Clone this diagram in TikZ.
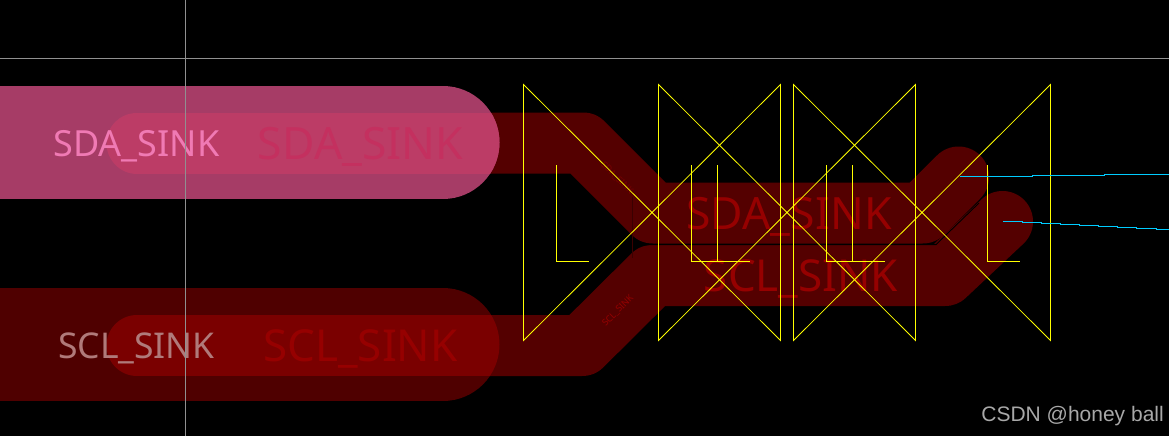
\documentclass[tikz,border=0pt]{standalone}
\usepackage{fontspec}
\setmainfont{Noto Sans}
\newfontfamily\wmfont{Liberation Sans}
\definecolor{trk}{HTML}{540000}
\definecolor{sdapad}{HTML}{A63C66}
\definecolor{sdaover}{HTML}{BC3C66}
\definecolor{sclpad}{HTML}{4F0000}
\definecolor{sclover}{HTML}{7A0000}
\definecolor{sdapadtxt}{HTML}{F07AB4}
\definecolor{sdatrktxt}{HTML}{C4305F}
\definecolor{sclpadtxt}{HTML}{B07A7A}
\definecolor{trktxt}{HTML}{960000}
\definecolor{tinytxt}{HTML}{780000}
\definecolor{ylw}{HTML}{FFFF00}
\definecolor{cyn}{HTML}{00CCFF}
\definecolor{gridc}{HTML}{909090}
\definecolor{wmc}{HTML}{A8A8A8}
\definecolor{dimline}{HTML}{3A0000}
\tikzset{
  x=1pt,y=-1pt,
  track/.style={line width=61pt,line join=round,line cap=round},
  pad/.style={line width=113pt,line cap=round},
  bow/.style={draw=ylw,line width=0.8pt},
  lmark/.style={draw=ylw,line width=0.9pt},
  ratline/.style={draw=cyn,line width=0.9pt},
  cross/.style={draw=gridc,line width=0.7pt},
  lab/.style={inner sep=0pt,anchor=center},
}
\begin{document}
\begin{tikzpicture}
\useasboundingbox (0,0) rectangle (1169,436);
\fill[black] (0,0) rectangle (1169,436);
% tracks
\draw[track,trk] (137,143) -- (583,143) -- (653,213) -- (922.6,213) -- (958.6,177);
\draw[track,trk] (137,345.5) -- (582,345.5) -- (652.5,275.5) -- (945,275.5) -- (1002.5,221.5);
\draw[black,line width=0.9pt] (640,244.6) -- (936,244.6) -- (979,203);
\draw[dimline,line width=1.5pt] (632.7,197) -- (632.7,258);
% pads
\draw[pad,sdapad,line cap=butt] (-5,142.5) -- (443,142.5);
\fill[sdapad] (443,86) arc[start angle=90,end angle=-90,x radius=56.5,y radius=-56.5];
\draw[pad,sclpad,line cap=butt] (-5,344.5) -- (443,344.5);
\fill[sclpad] (443,288) arc[start angle=90,end angle=-90,x radius=56.5,y radius=-56.5];
% overlaps
\begin{scope}
\clip (-5,86) -- (443,86) arc[start angle=90,end angle=-90,x radius=56.5,y radius=-56.5] -- (-5,199) -- cycle;
\draw[track,sdaover] (137,143) -- (583,143);
\end{scope}
\begin{scope}
\clip (-5,288) -- (443,288) arc[start angle=90,end angle=-90,x radius=56.5,y radius=-56.5] -- (-5,401) -- cycle;
\draw[track,sclover] (137,345.5) -- (582,345.5);
\end{scope}
% texts
\node[lab,text=sdapadtxt,font=\fontsize{36}{36}\selectfont] (t1) at (136.5,146.5) {SDA\_SINK};
\node[lab,text=sdatrktxt,font=\fontsize{44.5}{45}\selectfont] (t2) at (360.5,146.5) {SDA\_SINK};
\node[lab,text=sclpadtxt,font=\fontsize{35.5}{36}\selectfont] (t3) at (136.5,348.5) {SCL\_SINK};
\node[lab,text=trktxt,font=\fontsize{44}{45}\selectfont] (t4) at (360.5,348.5) {SCL\_SINK};
\node[lab,text=trktxt,font=\fontsize{44.5}{45}\selectfont] (t5) at (789,216.5) {SDA\_SINK};
\node[lab,text=trktxt,font=\fontsize{44}{45}\selectfont] (t6) at (801,278.5) {SCL\_SINK};
\node[lab,text=trktxt,rotate=45,font=\fontsize{9}{9}\selectfont] (t7) at (618,310.7) {SCL\_SINK};
\node[lab,text=tinytxt,rotate=-45,font=\fontsize{9}{9}\selectfont] (t8) at (617,178) {SDA\_SINK};
% yellow bow ties
\foreach \xa in {523.5,658.5,793.5}{
  \pgfmathsetmacro{\xb}{\xa+257}
  \draw[bow] (\xa,84.5) -- (\xa,340.5) -- (\xb,84.5) -- (\xb,340.5) -- cycle;
}
% L marks
\draw[lmark] (556.5,165) -- (556.5,261) -- (588.5,261);
\draw[lmark] (691.5,165) -- (691.5,261) -- (723.5,261);
\draw[lmark] (717.5,165) -- (717.5,261) -- (749.5,261);
\draw[lmark] (826.5,165) -- (826.5,261) -- (858.5,261);
\draw[lmark] (852.5,165) -- (852.5,261) -- (884.5,261);
\draw[lmark] (987.5,165) -- (987.5,261) -- (1020,261);
% ratsnest
\draw[ratline] (960,176.7) -- (1032,176.7) -- (1032,175.7) -- (1104,175.7) -- (1104,174.7) -- (1169,174.7);
\draw[ratline] (1003,221.3) -- (1022,221.3) -- (1022,222.3) -- (1041,222.3) -- (1041,223.3) -- (1060,223.3) -- (1060,224.3) -- (1079,224.3) -- (1079,225.3) -- (1098,225.3) -- (1098,226.3) -- (1117,226.3) -- (1117,227.3) -- (1136,227.3) -- (1136,228.3) -- (1156,228.3) -- (1156,229.3) -- (1169,229.3);
% crosshair
\draw[cross] (0,58.5) -- (1169,58.5);
\draw[cross] (185.5,0) -- (185.5,436);
% watermark
\node[lab,text=wmc,font=\wmfont\fontsize{21}{21}\selectfont,anchor=east] (wm) at (1164,416) {CSDN @honey ball};
\end{tikzpicture}
\end{document}
